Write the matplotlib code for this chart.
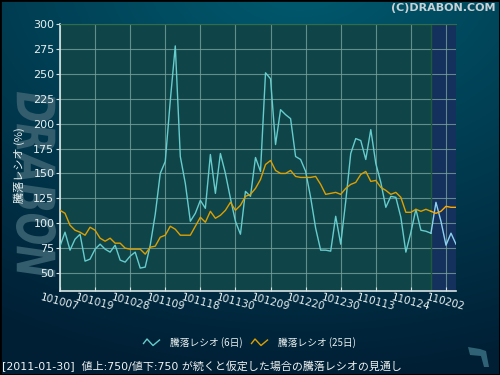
import numpy as np
import matplotlib
matplotlib.use("Agg")
import matplotlib.pyplot as plt
from matplotlib.textpath import TextPath
from matplotlib.patches import PathPatch, Rectangle, Polygon
from matplotlib.font_manager import FontProperties
from matplotlib.transforms import Affine2D
from matplotlib.lines import Line2D

# ---------------- data ----------------
tick_labels = ['101007', '101019', '101028', '101109', '101118', '101130',
               '101209', '101220', '101230', '110113', '110124', '110202']
tick_step = 7          # trading days between labelled ticks
last_actual = 74       # index of last real trading day (110128)

ratio_6 = [77, 91, 73, 84, 89, 62, 64, 74, 79, 74,
           71, 78, 63, 61, 67, 71, 55, 56, 78, 109,
           150, 162, 223, 278, 167, 140, 102, 110, 123, 115,
           169, 130, 170, 150, 125, 102, 89, 132, 127, 166,
           152, 251, 245, 179, 214, 209, 205, 167, 164, 152,
           126, 95, 73, 73, 72, 107, 79, 122, 170, 185,
           183, 164, 194, 160, 141, 116, 127, 126, 106, 71,
           91, 114, 93, 92, 90, 121, 102, 78, 90, 79]

ratio_25 = [113, 110, 98, 93, 91, 88, 96, 93, 85, 82,
            85, 80, 80, 75, 74, 74, 74, 69, 76, 77,
            86, 88, 97, 94, 88, 88, 88, 97, 106, 101,
            112, 105, 108, 113, 121, 113, 118, 127, 129, 135,
            144, 159, 163, 153, 150, 150, 153, 147, 146, 146,
            146, 147, 139, 129, 130, 131, 129, 135, 139, 141,
            149, 152, 142, 143, 136, 133, 129, 131, 126, 111,
            111, 114, 112, 114, 112, 110, 112, 117, 116, 116]

y_ticks = [50, 75, 100, 125, 150, 175, 200, 225, 250, 275, 300]

# ---------------- figure ----------------
W, H = 500, 375
fig = plt.figure(figsize=(5, 3.75), dpi=100)

# background gradient
bg = fig.add_axes([0, 0, 1, 1], zorder=-10)
yy, xx = np.mgrid[0:H, 0:W]
d = np.sqrt(((xx - 300) / 520.0) ** 2 + ((yy + 30) / 360.0) ** 2)
t = np.clip(d / 1.15, 0, 1)[..., None]
c0 = np.array([0, 92, 112]) / 255.0
c1 = np.array([0, 30, 52]) / 255.0
img = c0 * (1 - t) + c1 * t
bg.imshow(img, aspect='auto', extent=[0, W, H, 0])
bg.set_axis_off()

# watermark "DRABON" (vertical)
fp = FontProperties(family='DejaVu Sans', weight='bold', style='italic')
tp = TextPath((0, 0), "DRABON", size=1, prop=fp)
ext = tp.get_extents()
tr = (Affine2D().translate(-ext.x0, -ext.y0)
      .scale(185.0 / ext.width, 40.0 / ext.height)
      .rotate_deg(-90)
      .translate(16, H - 92))
wm = PathPatch(tr.transform_path(tp), facecolor='#335d6c', edgecolor='none',
               transform=Affine2D(), zorder=-5)
fig.add_artist(wm)

# icon bottom right
icon = Polygon([(468, H - 347), (480, H - 349), (486, H - 351), (489, H - 367),
                (484, H - 367), (481, H - 356), (470, H - 355)],
               closed=True, facecolor='#2f6275', edgecolor='none',
               transform=Affine2D())
fig.add_artist(icon)

# main axes
ax = fig.add_axes([60 / W, 1 - 291 / H, 396 / W, 267 / H])
ax.set_facecolor('#0f4449')
n = len(ratio_6)
x = np.arange(n)
ax.set_xlim(0, n - 1)
ax.set_ylim(32, 300)

ax.axvspan(last_actual, n - 1, color='#14305c', zorder=0.5, lw=0)
ax.axvline(last_actual, color='#1f5a3c', lw=1, zorder=0.6)

xt = np.arange(0, n, tick_step)[:len(tick_labels)]
ax.set_xticks(xt)
ax.set_xticklabels(tick_labels, rotation=-15, ha='center', va='top',
                   color='#e8f0f0', fontsize=7.5)
ax.set_yticks(y_ticks)
ax.set_yticklabels([str(v) for v in y_ticks], color='#e8f0f0', fontsize=8)
ax.tick_params(axis='x', direction='in', length=3, color='#d8e4e4', pad=1)
ax.tick_params(axis='y', direction='out', length=3, color='#d8e4e4', pad=1)
ax.grid(True, color='#76a29a', lw=0.8, alpha=0.8, zorder=1)
ax.set_axisbelow(True)

for s in ['left', 'bottom']:
    ax.spines[s].set_color('#d8e4e4')
    ax.spines[s].set_linewidth(1.2)
ax.spines['top'].set_color('#2e6e48')
ax.spines['right'].set_visible(False)

xa = x[:last_actual + 1]
xp = x[last_actual:]
r6 = np.array(ratio_6, float)
r25 = np.array(ratio_25, float)
ax.plot(xa, r6[:last_actual + 1], color='#66cccc', lw=1, zorder=3)
ax.plot(xp, r6[last_actual:], color='#8cd2f0', lw=1, zorder=3)
ax.plot(xa, r25[:last_actual + 1], color='#dda000', lw=1, zorder=4)
ax.plot(xp, r25[last_actual:], color='#ffaa00', lw=1, zorder=4)

# y label
fig.text(19 / W, 1 - 165 / H, '騰落レシオ (%)', rotation=90, ha='center',
         va='center', color='#e8f0f0', fontsize=8,
         family=['Noto Sans CJK JP', 'DejaVu Sans'])

# copyright
fig.text(495 / W, 1 - 8 / H, '(C)DRABON.COM', ha='right', va='center',
         color='#c8d2d6', fontsize=8, weight='bold', family='DejaVu Sans')

# legend (manual)
def zig(x0, col):
    pts = np.array([(x0, 343.5), (x0 + 3.5, 339), (x0 + 9.5, 345.5), (x0 + 16, 340)])
    fig.add_artist(Line2D(pts[:, 0] / W, 1 - pts[:, 1] / H, color=col, lw=1,
                          transform=fig.transFigure))

zig(143.5, '#66cccc')
fig.text(170 / W, 1 - 343 / H, '騰落レシオ (6日)', ha='left', va='center',
         color='#e8f0f0', fontsize=7, family=['Noto Sans CJK JP', 'DejaVu Sans'])
zig(251.5, '#dda000')
fig.text(278 / W, 1 - 343 / H, '騰落レシオ (25日)', ha='left', va='center',
         color='#e8f0f0', fontsize=7, family=['Noto Sans CJK JP', 'DejaVu Sans'])

# bottom note
fig.text(2 / W, 1 - 366 / H,
         '[2011-01-30]  値上:750/値下:750 が続くと仮定した場合の騰落レシオの見通し',
         ha='left', va='center', color='#f0f4f4', fontsize=7.9,
         family=['DejaVu Sans', 'Noto Sans CJK JP'])

# frame
fig.add_artist(Rectangle((0, 0), 1, 1, transform=fig.transFigure, fill=False,
                         edgecolor='#000000', lw=2))

fig.savefig('out.png', dpi=100)
